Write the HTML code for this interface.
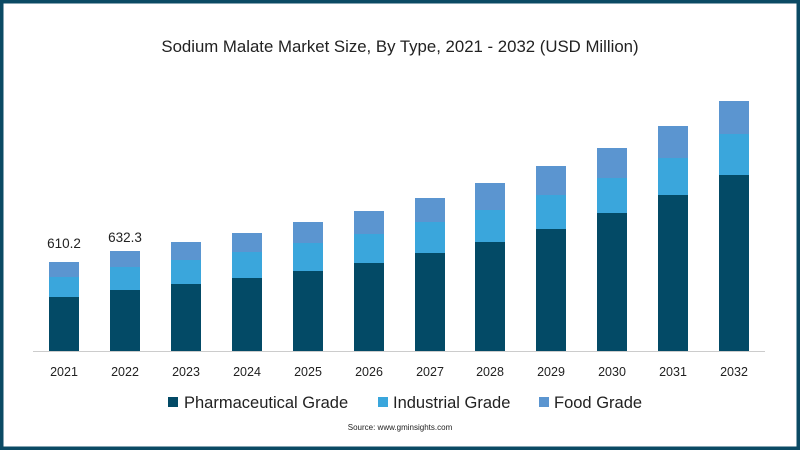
<!DOCTYPE html>
<html><head><style>
body{margin:0;width:800px;height:450px;overflow:hidden;background:#fff}
svg{display:block}
text{font-family:"Liberation Sans",sans-serif;fill:#222}
</style></head><body>
<svg width="800" height="450" viewBox="0 0 800 450">
<rect x="1.5" y="1.5" width="797" height="447" fill="#fff" stroke="#0b4a64" stroke-width="4"/>
<text x="400" y="52" font-size="16.8" text-anchor="middle" fill="#111">Sodium Malate Market Size, By Type, 2021 - 2032 (USD Million)</text>
<line x1="33" y1="351.5" x2="765" y2="351.5" stroke="#ccc" stroke-width="1"/>
<g id="bars"></g>
<text x="64" y="248" font-size="13.5" text-anchor="middle">610.2</text>
<text x="125" y="242" font-size="13.5" text-anchor="middle">632.3</text>
<g font-size="12.5" text-anchor="middle">
<text x="64" y="376">2021</text><text x="125" y="376">2022</text><text x="186" y="376">2023</text><text x="247" y="376">2024</text><text x="308" y="376">2025</text><text x="369" y="376">2026</text><text x="430" y="376">2027</text><text x="490" y="376">2028</text><text x="551" y="376">2029</text><text x="612" y="376">2030</text><text x="673" y="376">2031</text><text x="734" y="376">2032</text>
</g>
<rect x="168" y="397" width="10" height="10" fill="#034a66"/>
<text x="184" y="408" font-size="16.5">Pharmaceutical Grade</text>
<rect x="378" y="397" width="10" height="10" fill="#3aa6dc"/>
<text x="393" y="408" font-size="16.5">Industrial Grade</text>
<rect x="539" y="397" width="10" height="10" fill="#5b95d0"/>
<text x="554" y="408" font-size="16.5">Food Grade</text>
<text x="400" y="430" font-size="8" text-anchor="middle" fill="#777">Source:  www.gminsights.com</text>
</svg>
<script>
var cx=[64,125,186,247,308,369,430,490,551,612,673,734];
var tot=[262,251,242,233,222,211,198,183,166,148,126,101];
var ph=[297,290,284,278,271,263,253,242,229,213,195,175];
var ind=[277,267,260,252,243,234,222,210,195,178,158,134];
var g=document.getElementById('bars'),s='';
for(var i=0;i<12;i++){var x=cx[i]-15;
s+='<rect x="'+x+'" y="'+tot[i]+'" width="30" height="'+(ind[i]-tot[i])+'" fill="#5b95d0"/>';
s+='<rect x="'+x+'" y="'+ind[i]+'" width="30" height="'+(ph[i]-ind[i])+'" fill="#3aa6dc"/>';
s+='<rect x="'+x+'" y="'+ph[i]+'" width="30" height="'+(351-ph[i])+'" fill="#034a66"/>';}
g.innerHTML=s;
</script>
</body></html>
